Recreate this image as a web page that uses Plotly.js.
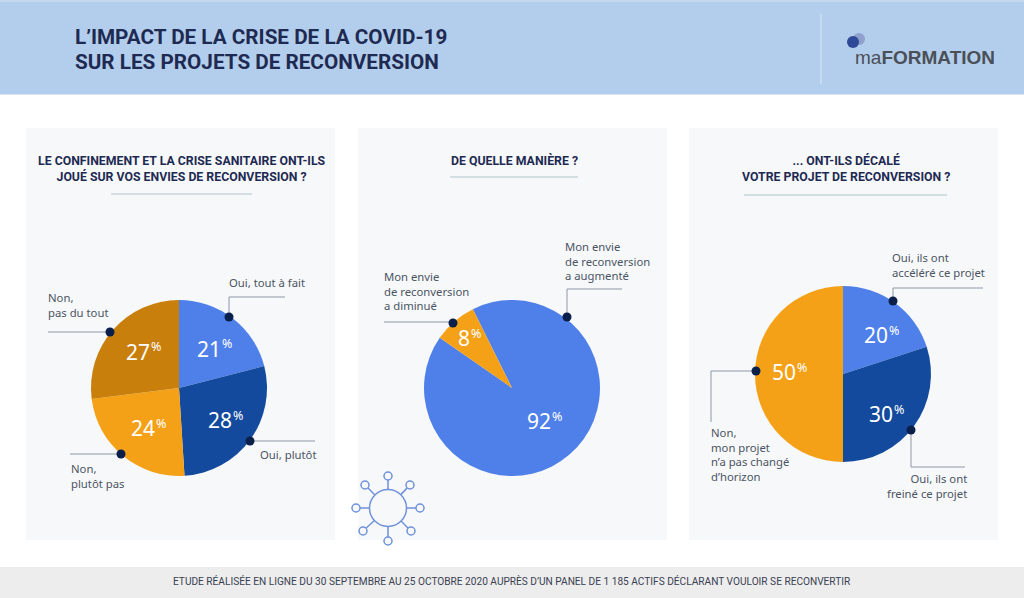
<!DOCTYPE html>
<html><head><meta charset="utf-8">
<script src="https://cdn.plot.ly/plotly-3.0.1.min.js"></script>
<style>html,body{margin:0;padding:0;background:#fff}#c{width:1024px;height:598px}</style>
</head><body><div id="c"></div>
<script>
// ---- data ----
const labelsA = ["Oui, tout à fait","Oui, plutôt","Non, plutôt pas","Non, pas du tout"];
const valuesA = [21,28,24,27];
const labelsB = ["Mon envie de reconversion a augmenté","Mon envie de reconversion a diminué"];
const valuesB = [92,8];
const labelsC = ["Oui, ils ont accéléré ce projet","Oui, ils ont freiné ce projet","Non, mon projet n'a pas changé d'horizon"];
const valuesC = [20,30,50];
const titleLines = ["L’IMPACT DE LA CRISE DE LA COVID-19","SUR LES PROJETS DE RECONVERSION"];
const footerText = "ETUDE RÉALISÉE EN LIGNE DU 30 SEPTEMBRE AU 25 OCTOBRE 2020 AUPRÈS D’UN PANEL DE 1 185 ACTIFS DÉCLARANT VOULOIR SE RECONVERTIR";

// ---- layout helpers ----
const W=1024,H=598;
const X=x=>x/W, Y=y=>1-y/H;
const BLUE="#4F80EA",DBLUE="#134A9D",OR="#F4A118",DOR="#C97F0B",NAVY="#0B1F4B",INK="#1E2A52",GREY="#4b5563",LINE="#8e97a6",PANEL="#F7F8FA";
const R=88;
const dom=(cx,cy)=>({x:[X(cx-R),X(cx+R)],y:[Y(cy+R),Y(cy-R)]});
const pie=(labels,values,colors,cx,cy,rot)=>({type:"pie",labels,values,sort:false,direction:"clockwise",rotation:rot,
  marker:{colors},textinfo:"none",hoverinfo:"label+percent",domain:dom(cx,cy),showlegend:false});
const traces=[
  pie(labelsA,valuesA,[BLUE,DBLUE,OR,DOR],179,388,0),
  pie(labelsB,valuesB,[BLUE,OR],512,388,-26.4),
  pie(labelsC,valuesC,[BLUE,DBLUE,OR],843,374,0)
];
const shapes=[],ann=[];
const rect=(x0,y0,x1,y1,c)=>shapes.push({type:"rect",xref:"paper",yref:"paper",x0:X(x0),x1:X(x1),y0:Y(y0),y1:Y(y1),fillcolor:c,line:{width:0},layer:"below"});
const poly=(pts,c,w)=>{for(let i=0;i<pts.length-1;i++)shapes.push({type:"line",xref:"paper",yref:"paper",x0:X(pts[i][0]),y0:Y(pts[i][1]),x1:X(pts[i+1][0]),y1:Y(pts[i+1][1]),line:{color:c,width:w}});};
const circ=(x,y,r,fill,lc,lw)=>shapes.push({type:"circle",xref:"paper",yref:"paper",x0:X(x-r),x1:X(x+r),y0:Y(y+r),y1:Y(y-r),fillcolor:fill,line:{color:lc||fill,width:lw||0}});
const txt=(x,y,t,o={})=>ann.push({xref:"paper",yref:"paper",x:X(x),y:Y(y),text:t,showarrow:false,xanchor:o.a||"left",yanchor:"middle",align:o.a==="right"?"right":(o.a==="center"?"center":"left"),
  font:{family:o.f||"Noto Sans, sans-serif",size:o.s||11.3,color:o.c||GREY,weight:o.w||400},borderpad:0,borderwidth:0});

// backgrounds
rect(0,0,W,94.5,"#B3CEEC"); rect(0,0,W,2,"#C4D9F0");
rect(26,128,335,540,PANEL); rect(358,128,667,540,PANEL); rect(689,128,998,540,PANEL);
rect(0,567,W,598,"#EDEDED");
poly([[821,14],[821,84]],"#DCE8F6",1);

// header
txt(75,37,titleLines[0],{s:20.7,w:700,c:INK,f:"Roboto, sans-serif"});
txt(75,62,titleLines[1],{s:20.7,w:700,c:INK,f:"Roboto, sans-serif"});
circ(859,39,6,"#8FA0CC"); circ(853,42,6,"#2E4A96");
txt(855,57,'ma<b style="font-weight:700">FORMATION</b>',{s:19,c:"#4b4f57",f:"Liberation Sans, sans-serif"});

// panel titles
const PT={s:12.3,w:700,c:INK,f:"Roboto, sans-serif"};
txt(181.5,168.5,"LE CONFINEMENT ET LA CRISE SANITAIRE ONT-ILS<br>JOUÉ SUR VOS ENVIES DE RECONVERSION ?",{...PT,a:"center"});
txt(514,161,"DE QUELLE MANIÈRE ?",{...PT,a:"center"});
txt(846,168.5,"... ONT-ILS DÉCALÉ<br>VOTRE PROJET DE RECONVERSION ?",{...PT,a:"center"});
poly([[111,194],[252,194]],"#C6D6D8",1.5);
poly([[450,177],[578,177]],"#C6D6D8",1.5);
poly([[744,195],[947,195]],"#C6D6D8",1.5);

// percent labels: number, then a small raised percent sign
const pct=(x,y,v)=>{
  txt(x,y,String(v),{s:21,c:"#fff",a:"right"});
  txt(x+1,y-5,"%",{s:12.5,c:"#fff"});
};
pct(221,349,valuesA[0]); pct(232,420,valuesA[1]); pct(155,428,valuesA[2]); pct(150,352,valuesA[3]);
pct(551,421,valuesB[0]); pct(470,338,valuesB[1]);
pct(888,335,valuesC[0]); pct(893,414,valuesC[1]); pct(796,372,valuesC[2]);

// leaders
poly([[285,297],[229,297],[229,317]],LINE,1);
poly([[250,441],[315,441]],LINE,1);
poly([[70,454],[121,454]],LINE,1);
poly([[48,332],[110,332]],LINE,1);
poly([[622,289],[567,289],[567,317]],LINE,1);
poly([[384,322],[453,322]],LINE,1);
poly([[983,288],[893,288],[893,301]],LINE,1);
poly([[911,430],[911,467],[965,467]],LINE,1);
poly([[756,371],[711,371],[711,422]],LINE,1);
[[229,317],[250,441],[121,454],[110,332],[567,317],[453,323],[893,301],[911,430],[756,371]].forEach(p=>circ(p[0],p[1],4.5,NAVY));

// callout labels
txt(229,282.5,"Oui, tout à fait");
txt(260,454.5,"Oui, plutôt");
txt(71,475.5,"Non,<br>plutôt pas");
txt(48,305,"Non,<br>pas du tout");
txt(565,260.5,"Mon envie<br>de reconversion<br>a augmenté");
txt(384,290.5,"Mon envie<br>de reconversion<br>a diminué");
txt(892,265,"Oui, ils ont<br>accéléré ce projet");
txt(967,485.5,"Oui, ils ont<br>freiné ce projet",{a:"right"});
txt(711,454.5,"Non,<br>mon projet<br>n’a pas changé<br>d’horizon");

// virus icon
const VC="#6F92DA";
[[388,476],[410,485],[420,508],[411,531],[388,541],[363,531],[356,508],[365,485]].forEach(p=>{
  const dx=p[0]-388,dy=p[1]-508,d=Math.hypot(dx,dy);
  poly([[388+dx/d*18.5,508+dy/d*18.5],[388+dx/d*(d-4),508+dy/d*(d-4)]],VC,1.5);
  circ(p[0],p[1],4,PANEL,VC,1.5);
});
circ(388,508,18.5,PANEL,VC,1.5);

// footer
txt(512,580.5,footerText,{s:10.15,c:"#3a4152",a:"center",f:"Roboto, sans-serif"});

Plotly.newPlot("c",traces,{width:W,height:H,margin:{l:0,r:0,t:0,b:0},paper_bgcolor:"#fff",showlegend:false,shapes,annotations:ann},{displayModeBar:false,staticPlot:true});
</script></body></html>
